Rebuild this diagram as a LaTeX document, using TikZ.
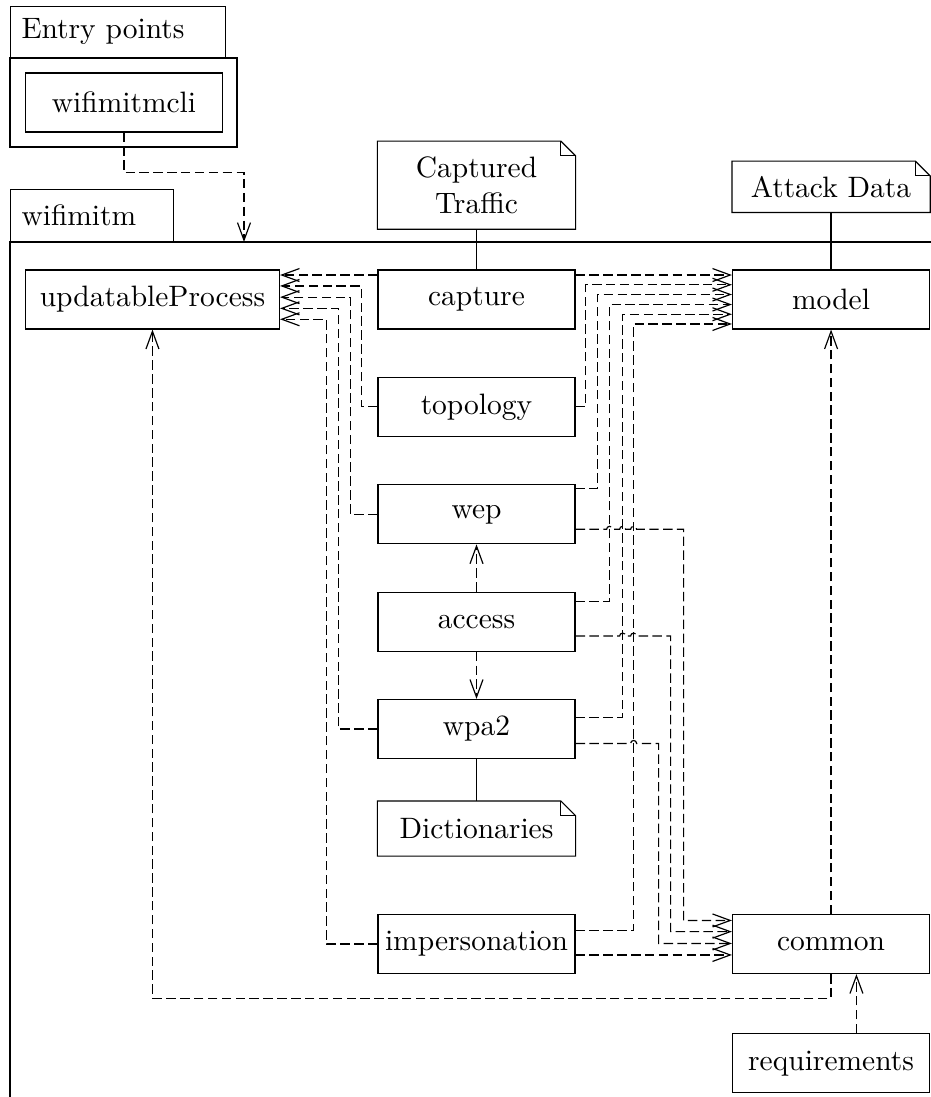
\documentclass[tikz,border=0pt]{standalone}
\usepackage{tikz}
\usetikzlibrary{positioning, arrows.meta}

\begin{document}
\begin{tikzpicture}[
    x=0.339pt, y=-0.339pt,
    box/.style={rectangle, draw, minimum width=66.8pt, minimum height=20pt, inner sep=2pt, align=center},
    note/.style={box, draw=none},
    pkgtab/.style={rectangle, draw, inner xsep=3.7pt, inner ysep=0pt, align=left, anchor=south west},
    dep/.style={-{Straight Barb[length=6pt, width=4.4pt]}, dash pattern=on 3.2pt off 1.5pt},
    jump/.style={start angle=180, end angle=360, radius=3}
]
\useasboundingbox (0,0) rectangle (931,1097);

% Packages
\draw (10,58) rectangle (237,147);
\node[pkgtab, text width=65.5pt, minimum height=17.3pt] (entrytab) at (10,58) {Entry points};
\node[pkgtab, text width=47.9pt, minimum height=17.6pt] (pkgtab) at (10,242) {wifimitm};
\draw (10,1097) -- (10,242) -- (931,242);
\coordinate (pkgin) at (244,242);

% Entry point
\node[box] (cli) at (124,102.5) {wifimitmcli};

% Main column
\node[box] (capture) at (476.5,299.5) {capture};
\node[box, below=16pt of capture] (topology) {topology};
\node[box, below=16pt of topology] (wep) {wep};
\node[box, below=16pt of wep] (access) {access};
\node[box, below=16pt of access] (wpa2) {wpa2};
\node[note, below=14.2pt of wpa2, minimum height=18.3pt] (dict) {Dictionaries};
\node[box, below=19.6pt of dict] (imp) {impersonation};

% Side modules
\node[box, left=33pt of capture, minimum width=86.1pt] (up) {updatableProcess};
\node[box, right=53pt of capture] (model) {model};
\node[box] (common) at (model |- imp) {common};
\node[box, below=20pt of common] (req) {requirements};

% Notes
\node[note, above=13.6pt of capture, minimum height=29.5pt] (ct) {Captured\\Traffic};
\node[note, above=19.3pt of model, minimum height=17pt] (ad) {Attack Data};
\foreach \n in {ct, ad, dict}{
  \draw (\n.south west) -- (\n.north west) -- ([xshift=-5pt]\n.north east) -- ([yshift=-5pt]\n.north east) -- (\n.south east) -- cycle;
  \draw ([xshift=-5pt]\n.north east) |- ([yshift=-5pt]\n.north east);
}
\draw (ct) -- (capture);
\draw (ad) -- (model);
\draw (wpa2) -- (dict);

% Entry point -> package
\draw[dep] (cli.south) -- ++(0,40) -| (pkgin);

% -> updatableProcess
\draw[dep] ([yshift=8.3pt]capture.west) -- ([yshift=8.3pt]up.east);
\draw[dep] (topology.west) -- ++(-16,0) |- ([yshift=4.6pt]up.east);
\draw[dep] (wep.west) -- ++(-27,0) |- ([yshift=0.8pt]up.east);
\draw[dep] (wpa2.west) -- ++(-39,0) |- ([yshift=-3pt]up.east);
\draw[dep] (imp.west) -- ++(-51,0) |- ([yshift=-6.7pt]up.east);

% -> model
\draw[dep] ([yshift=8.3pt]capture.east) -- ([yshift=8.3pt]model.west);
\draw[dep] (topology.east) -- ++(10,0) |- ([yshift=5pt]model.west);
\draw[dep] ([yshift=8.8pt]wep.east) -- ++(22,0) |- ([yshift=1.7pt]model.west);
\draw[dep] ([yshift=6.9pt]access.east) -- ++(34,0) |- ([yshift=-1.7pt]model.west);
\draw[dep] ([yshift=3.9pt]wpa2.east) -- ++(47,0) |- ([yshift=-5pt]model.west);
\draw[dep] ([yshift=4.6pt]imp.east) -- ++(58,0) |- ([yshift=-8.3pt]model.west);

% -> common (with line jumps)
\draw[dep] ([yshift=-5.1pt]wep.east) -- ++(31,0) arc[jump] -- ++(7,0) arc[jump] -- ++(5,0) arc[jump] -- ++(47,0) |- ([yshift=8pt]common.west);
\draw[dep] ([yshift=-4.9pt]access.east) -- ++(44,0) arc[jump] -- ++(5,0) arc[jump] -- ++(34,0) |- ([yshift=4.2pt]common.west);
\draw[dep] ([yshift=-4.9pt]wpa2.east) -- ++(55,0) arc[jump] -- ++(22,0) |- ([yshift=0.2pt]common.west);
\draw[dep] ([yshift=-3.7pt]imp.east) -- ([yshift=-3.7pt]common.west);

% Other dependencies
\draw[dep] (access) -- (wep);
\draw[dep] (access) -- (wpa2);
\draw[dep] (common) -- (model);
\draw[dep] ([xshift=8.6pt]req.north) -- ([xshift=8.6pt]common.south);
\draw[dep] (common.south) -- ++(0,24) -| (up.south);

\end{tikzpicture}
\end{document}
